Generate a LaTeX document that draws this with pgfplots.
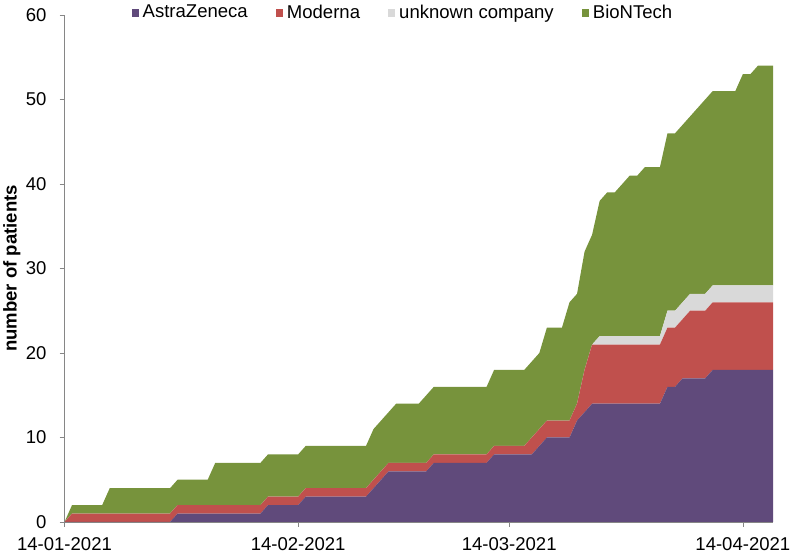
\documentclass[border=0pt]{standalone}
\usepackage{fontspec}
\setmainfont{Liberation Sans}
\usepackage{pgfplots}
\usepackage{pgfplotstable}
\pgfplotsset{compat=1.18}

\definecolor{azc}{HTML}{604A7B}
\definecolor{modc}{HTML}{C0504D}
\definecolor{unkc}{HTML}{D9D9D9}
\definecolor{bioc}{HTML}{77933C}
\definecolor{axgray}{HTML}{868686}

% day = days after 14-01-2021, patients per vaccine (cumulative)
\pgfplotstableread{
day az mod unk bio
0  0  0 0 0
1  0  1 0 1
5  0  1 0 1
6  0  1 0 3
14 0  1 0 3
15 1  1 0 3
19 1  1 0 3
20 1  1 0 5
26 1  1 0 5
27 2  1 0 5
31 2  1 0 5
32 3  1 0 5
40 3  1 0 5
41 4  1 0 6
42 5  1 0 6
43 6  1 0 6
44 6  1 0 7
47 6  1 0 7
48 6  1 0 8
49 7  1 0 8
56 7  1 0 8
57 8  1 0 9
61 8  1 0 9
62 8  2 0 9
63 9  2 0 9
64 10 2 0 11
66 10 2 0 11
67 10 2 0 14
68 12 2 0 13
69 13 5 0 14
70 14 7 0 13
71 14 7 1 16
72 14 7 1 17
73 14 7 1 17
74 14 7 1 18
75 14 7 1 19
76 14 7 1 19
77 14 7 1 20
79 14 7 1 20
80 16 7 2 21
81 16 7 2 21
82 17 7 2 21
83 17 8 2 21
85 17 8 2 23
86 18 8 2 23
89 18 8 2 23
90 18 8 2 25
91 18 8 2 25
92 18 8 2 26
94 18 8 2 26
}\vaxdata

\begin{document}
\begin{tikzpicture}
\begin{axis}[
  width=354.25bp, height=253.5bp, scale only axis,
  font=\fontsize{9.3}{11}\selectfont,
  stack plots=y, area style,
  xmin=0, xmax=94, ymin=0, ymax=60,
  axis lines=left, axis line style={-, draw=axgray},
  tick align=outside, major tick length=2.5bp, tick style={draw=axgray},
  ytick={0,10,...,60},
  xtick={0,31,59,90},
  xticklabels={14-01-2021,14-02-2021,14-03-2021,14-04-2021},
  /pgf/number format/assume math mode=true,
  y tick label style={xshift=-3bp},
  x tick label style={yshift=-2bp},
  ylabel={\bfseries number of patients},
  ylabel style={yshift=-4.2bp},
  legend columns=4,
  legend style={draw=none, fill=none, at={(0.479,1.004)}, anchor=center,
    font=\fontsize{9.3}{11}\selectfont, inner sep=0pt,
    /tikz/every even column/.append style={column sep=12bp}},
  legend image code/.code={\fill[#1] (0bp,-1.8bp) rectangle (3.6bp,1.8bp);},
]
\addplot[fill=azc, draw=none] table[x=day, y=az] {\vaxdata} \closedcycle;
\addlegendentry{AstraZeneca}
\addplot[fill=modc, draw=none] table[x=day, y=mod] {\vaxdata} \closedcycle;
\addlegendentry{Moderna}
\addplot[fill=unkc, draw=none] table[x=day, y=unk] {\vaxdata} \closedcycle;
\addlegendentry{unknown company}
\addplot[fill=bioc, draw=none] table[x=day, y=bio] {\vaxdata} \closedcycle;
\addlegendentry{BioNTech}
\end{axis}
\path (current axis.south west) ++(-32.25bp,-17.5bp) coordinate (bl);
\path (current axis.north east) ++(8.5bp,7.5bp) coordinate (tr);
\pgfresetboundingbox
\useasboundingbox (bl) rectangle (tr);
\end{tikzpicture}
\end{document}
